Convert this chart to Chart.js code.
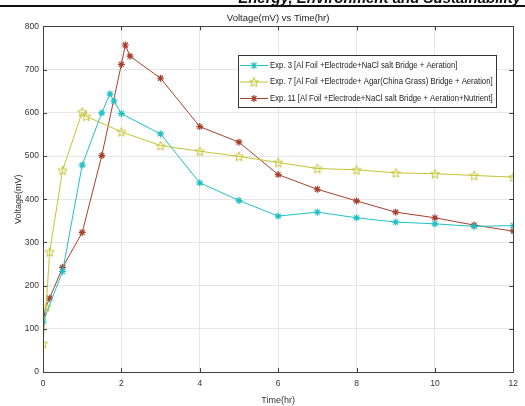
<!DOCTYPE html>
<html>
<head>
<meta charset="utf-8">
<script src="https://cdn.jsdelivr.net/npm/chart.js@4.4.1/dist/chart.umd.min.js"></script>
<style>
  body { margin: 0; background: #fff; }
  #wrap { position: relative; width: 525px; height: 406px; overflow: hidden; }
  #journal { position: absolute; right: 4px; top: -10px; font: italic bold 15px "Liberation Sans", Arial, sans-serif; line-height: 15px; color: #111; white-space: nowrap; }
  #rule { position: absolute; left: 0; top: 5px; width: 525px; height: 2px; background: #111; }
  canvas { position: absolute; left: 0; top: 0; }
</style>
</head>
<body>
<div id="wrap">
  <canvas id="chart" width="525" height="406"></canvas>
  <div id="journal">Energy, Environment and Sustainability</div>
  <div id="rule"></div>
</div>
<script>
const exp3Time = [0, 0.5, 1, 1.5, 1.71, 1.81, 2, 3, 4, 5, 6, 7, 8, 9, 10, 11, 12];
const exp3Volt = [116, 233, 479, 600, 644, 627, 598, 551, 438, 397, 361, 370, 357, 347, 343, 337, 339];

const exp7Time = [0, 0.08, 0.17, 0.5, 1, 1.1, 2, 3, 4, 5, 6, 7, 8, 9, 10, 11, 12];
const exp7Volt = [66, 151, 278, 467, 602, 592, 556, 524, 511, 499, 485, 471, 468, 461, 459, 455, 451];

const exp11Time = [0, 0.17, 0.5, 1, 1.5, 2, 2.1, 2.22, 3, 4, 5, 6, 7, 8, 9, 10, 11, 12];
const exp11Volt = [133, 171, 242, 323, 501, 712, 757, 731, 680, 568, 532, 457, 423, 396, 370, 357, 340, 326];

const seriesLabels = [
  'Exp. 3 [Al Foil +Electrode+NaCl salt Bridge + Aeration]',
  'Exp. 7 [Al Foil +Electrode+ Agar(China Grass) Bridge + Aeration]',
  'Exp. 11 [Al Foil +Electrode+NaCl salt Bridge + Aeration+Nutrient]',
];

const xTicks = [0, 2, 4, 6, 8, 10, 12];
const yTicks = [0, 100, 200, 300, 400, 500, 600, 700, 800];

const FONT = '"Liberation Sans", Arial, sans-serif';
const colors = {cyan: '#22c0c4', yellow: '#c4c434', red: '#a8402f'};

const toPoints = (xs, ys) => xs.map((x, i) => ({x: x, y: ys[i]}));

// MATLAB style pentagram marker
const pentagram = (color) => {
  const c = document.createElement('canvas');
  c.width = 12; c.height = 12;
  const g = c.getContext('2d');
  g.strokeStyle = color;
  g.lineWidth = 1;
  g.beginPath();
  for (let i = 0; i < 10; i++) {
    const r = i % 2 ? 2.1 : 4.9;
    const a = -Math.PI / 2 + i * Math.PI / 5;
    g.lineTo(6 + r * Math.cos(a), 6.5 + r * Math.sin(a));
  }
  g.closePath();
  g.stroke();
  return c;
};
const yellowStar = pentagram(colors.yellow);

const createDataset = (label, xs, ys, color, marker) => ({
  label: label,
  data: toPoints(xs, ys),
  borderColor: color,
  backgroundColor: color,
  borderWidth: 1,
  pointStyle: marker,
  pointRadius: 3.5,
  pointBorderColor: color,
  pointBorderWidth: 1.2,
  tension: 0,
});

const drawMarker = (ctx, style, color, x, y) => {
  if (style instanceof HTMLCanvasElement) {
    ctx.drawImage(style, x - style.width / 2, y - style.height / 2);
    return;
  }
  const r = 3.5;
  ctx.strokeStyle = color;
  ctx.lineWidth = 1.2;
  ctx.beginPath();
  for (let i = 0; i < 4; i++) {
    const a = i * Math.PI / 4;
    ctx.moveTo(x - r * Math.cos(a), y - r * Math.sin(a));
    ctx.lineTo(x + r * Math.cos(a), y + r * Math.sin(a));
  }
  ctx.stroke();
};

// legend box inside the axes, like MATLAB's legend
const boxLegend = {
  id: 'boxLegend',
  afterDraw(chart) {
    const ctx = chart.ctx;
    const left = 238, top = 55, width = 258, height = 52, rowGap = 16.5;
    ctx.save();
    ctx.fillStyle = '#fff';
    ctx.fillRect(left, top, width, height);
    ctx.strokeStyle = '#333';
    ctx.lineWidth = 1;
    ctx.strokeRect(left + 0.5, top + 0.5, width, height);
    chart.data.datasets.forEach((ds, i) => {
      const y = top + 10.5 + i * rowGap;
      ctx.strokeStyle = ds.borderColor;
      ctx.lineWidth = 1;
      ctx.beginPath();
      ctx.moveTo(left + 2, y);
      ctx.lineTo(left + 30, y);
      ctx.stroke();
      drawMarker(ctx, ds.pointStyle, ds.borderColor, left + 16, y);
      // condensed text, the way the MATLAB export renders it
      ctx.save();
      ctx.translate(left + 32, y);
      ctx.scale(0.86, 1);
      ctx.fillStyle = '#222';
      ctx.font = '9px ' + FONT;
      ctx.textBaseline = 'middle';
      ctx.fillText(ds.label, 0, 0);
      ctx.restore();
    });
    ctx.restore();
  }
};

// box around axes with inward tick marks
const axesBox = {
  id: 'axesBox',
  afterDatasetsDraw(chart) {
    const {ctx, chartArea: a, scales: {x, y}} = chart;
    const len = 4;
    ctx.save();
    ctx.strokeStyle = '#404040';
    ctx.lineWidth = 1;
    ctx.strokeRect(Math.round(a.left) + 0.5, Math.round(a.top) + 0.5, Math.round(a.right - a.left), Math.round(a.bottom - a.top));
    ctx.beginPath();
    x.ticks.forEach(t => {
      const px = Math.round(x.getPixelForValue(t.value)) + 0.5;
      ctx.moveTo(px, a.bottom); ctx.lineTo(px, a.bottom - len);
      ctx.moveTo(px, a.top); ctx.lineTo(px, a.top + len);
    });
    y.ticks.forEach(t => {
      const py = Math.round(y.getPixelForValue(t.value)) + 0.5;
      ctx.moveTo(a.left, py); ctx.lineTo(a.left + len, py);
      ctx.moveTo(a.right, py); ctx.lineTo(a.right - len, py);
    });
    ctx.stroke();
    ctx.restore();
  }
};

const config = {
  type: 'line',
  data: {
    datasets: [
      createDataset(seriesLabels[0], exp3Time, exp3Volt, colors.cyan, 'star'),
      createDataset(seriesLabels[1], exp7Time, exp7Volt, colors.yellow, yellowStar),
      createDataset(seriesLabels[2], exp11Time, exp11Volt, colors.red, 'star'),
    ]
  },
  options: {
    responsive: false,
    animation: false,
    layout: {padding: {left: 0, right: 6, top: 0, bottom: 0}},
    scales: {
      x: {
        type: 'linear',
        min: 0,
        max: 12,
        afterBuildTicks: scale => { scale.ticks = xTicks.map(v => ({value: v})); },
        afterFit: scale => { scale.height = 34; },
        grid: {color: '#e6e6e6', drawTicks: false},
        border: {display: false},
        ticks: {color: '#333', padding: 7, font: {family: FONT, size: 8.5}, maxRotation: 0},
        title: {display: true, text: 'Time(hr)', color: '#333', padding: {top: 0, bottom: 0}, font: {family: FONT, size: 9}},
      },
      y: {
        type: 'linear',
        min: 0,
        max: 800,
        afterBuildTicks: scale => { scale.ticks = yTicks.map(v => ({value: v})); },
        afterFit: scale => { scale.width = 43; },
        grid: {color: '#e6e6e6', drawTicks: false},
        border: {display: false},
        ticks: {color: '#333', padding: 4, font: {family: FONT, size: 8.5}},
        title: {display: true, text: 'Voltage(mV)', color: '#333', padding: {top: 13, bottom: 0}, font: {family: FONT, size: 9}},
      },
    },
    plugins: {
      legend: {display: false},
      tooltip: {enabled: false},
      title: {
        display: true,
        fullSize: false,
        text: 'Voltage(mV) vs Time(hr)',
        color: '#222',
        padding: {top: 13, bottom: 2},
        font: {family: FONT, size: 9.5, weight: 'normal'},
      },
    }
  },
  plugins: [axesBox, boxLegend],
};

new Chart(document.getElementById('chart'), config);
</script>
</body>
</html>
